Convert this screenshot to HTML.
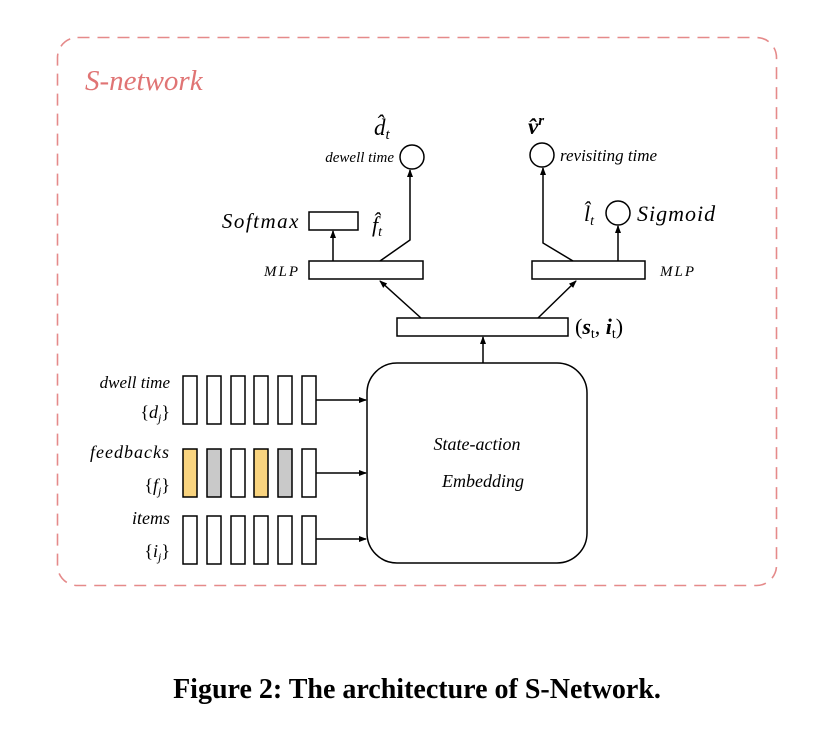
<!DOCTYPE html>
<html><head><meta charset="utf-8"><style>
body{margin:0;background:#fff;width:834px;height:740px;overflow:hidden}
svg{display:block}
.i{font-family:"Liberation Serif",serif;font-style:italic}
</style></head><body>
<svg width="834" height="740" viewBox="0 0 834 740" xmlns="http://www.w3.org/2000/svg">
<defs><marker id="a" markerWidth="8" markerHeight="8" refX="7" refY="4" orient="auto" markerUnits="userSpaceOnUse"><path d="M0,1 L8,4 L0,7 z" fill="#000"/></marker></defs>
<rect x="57.5" y="37.5" width="719" height="548" rx="20" fill="none" stroke="#e58a8a" stroke-width="1.6" stroke-dasharray="12,8"/>
<text x="85" y="90" class="i" font-size="29" fill="#e07474">S-network</text>
<g fill="none" stroke="#000" stroke-width="1.5">
<rect x="309" y="212" width="49" height="18"/>
<rect x="309" y="261" width="114" height="18"/>
<rect x="532" y="261" width="113" height="18"/>
<rect x="397" y="318" width="171" height="18"/>
<circle cx="412" cy="157" r="12"/>
<circle cx="542" cy="155" r="12"/>
<circle cx="618" cy="213" r="12"/>
<rect x="367" y="363" width="220" height="200" rx="30"/>
<line x1="333" y1="261" x2="333" y2="231" marker-end="url(#a)"/>
<polyline points="380,261 410,240 410,170" marker-end="url(#a)"/>
<polyline points="573,261 543,243 543,168" marker-end="url(#a)"/>
<line x1="618" y1="261" x2="618" y2="226" marker-end="url(#a)"/>
<line x1="421" y1="318" x2="380" y2="281" marker-end="url(#a)"/>
<line x1="538" y1="318" x2="576" y2="281" marker-end="url(#a)"/>
<line x1="483" y1="363" x2="483" y2="337" marker-end="url(#a)"/>
<line x1="316" y1="400" x2="366" y2="400" marker-end="url(#a)"/>
<line x1="316" y1="473" x2="366" y2="473" marker-end="url(#a)"/>
<line x1="316" y1="539" x2="366" y2="539" marker-end="url(#a)"/>
</g>
<g stroke="#000" stroke-width="1.5">
<rect x="183" y="376" width="14" height="48" fill="#fff"/><rect x="207" y="376" width="14" height="48" fill="#fff"/><rect x="231" y="376" width="14" height="48" fill="#fff"/><rect x="254" y="376" width="14" height="48" fill="#fff"/><rect x="278" y="376" width="14" height="48" fill="#fff"/><rect x="302" y="376" width="14" height="48" fill="#fff"/>
<rect x="183" y="449" width="14" height="48" fill="#f9d47f"/><rect x="207" y="449" width="14" height="48" fill="#c9c9c9"/><rect x="231" y="449" width="14" height="48" fill="#fff"/><rect x="254" y="449" width="14" height="48" fill="#f9d47f"/><rect x="278" y="449" width="14" height="48" fill="#c9c9c9"/><rect x="302" y="449" width="14" height="48" fill="#fff"/>
<rect x="183" y="516" width="14" height="48" fill="#fff"/><rect x="207" y="516" width="14" height="48" fill="#fff"/><rect x="231" y="516" width="14" height="48" fill="#fff"/><rect x="254" y="516" width="14" height="48" fill="#fff"/><rect x="278" y="516" width="14" height="48" fill="#fff"/><rect x="302" y="516" width="14" height="48" fill="#fff"/>
</g>
<g class="i" fill="#000">
<text x="300" y="228" font-size="21" text-anchor="end" letter-spacing="1.5">Softmax</text>
<text x="372" y="232" font-size="22">f̂<tspan font-size="14" dy="4">t</tspan></text>
<text x="300" y="276" font-size="15" text-anchor="end" letter-spacing="2">MLP</text>
<text x="660" y="276" font-size="15" letter-spacing="2">MLP</text>
<text x="394" y="162" font-size="15" text-anchor="end">dewell time</text>
<text x="374" y="135" font-size="23">d̂<tspan font-size="15" dy="4">t</tspan></text>
<text x="560" y="161" font-size="17">revisiting time</text>
<text x="528" y="134" font-size="23" font-weight="bold">v̂<tspan font-size="15" dy="-9">r</tspan></text>
<text x="584" y="221" font-size="22">l̂<tspan font-size="14" dy="4">t</tspan></text>
<text x="637" y="221" font-size="22" letter-spacing="1">Sigmoid</text>
<text x="575" y="334" font-size="22" font-style="normal">(<tspan font-weight="bold" font-style="italic">s</tspan><tspan font-size="14" dy="4">t</tspan><tspan dy="-4">, </tspan><tspan font-weight="bold" font-style="italic">i</tspan><tspan font-size="14" dy="4">t</tspan><tspan dy="-4">)</tspan></text>
<text x="477" y="450" font-size="18" text-anchor="middle">State-action</text>
<text x="483" y="487" font-size="18" text-anchor="middle">Embedding</text>
<text x="170" y="388" font-size="17" text-anchor="end">dwell time</text>
<text x="170" y="418" font-size="18" text-anchor="end"><tspan font-style="normal">{</tspan>d<tspan font-size="12" dy="4">j</tspan><tspan dy="-4" font-style="normal">}</tspan></text>
<text x="170" y="458" font-size="18" text-anchor="end" letter-spacing="1">feedbacks</text>
<text x="170" y="491" font-size="18" text-anchor="end"><tspan font-style="normal">{</tspan>f<tspan font-size="12" dy="4">j</tspan><tspan dy="-4" font-style="normal">}</tspan></text>
<text x="170" y="524" font-size="18" text-anchor="end">items</text>
<text x="170" y="557" font-size="18" text-anchor="end"><tspan font-style="normal">{</tspan>i<tspan font-size="12" dy="4">j</tspan><tspan dy="-4" font-style="normal">}</tspan></text>
</g>
<text x="417" y="698" font-family="Liberation Serif,serif" font-weight="bold" font-size="28" text-anchor="middle">Figure 2: The architecture of S-Network.</text>
</svg>
</body></html>
